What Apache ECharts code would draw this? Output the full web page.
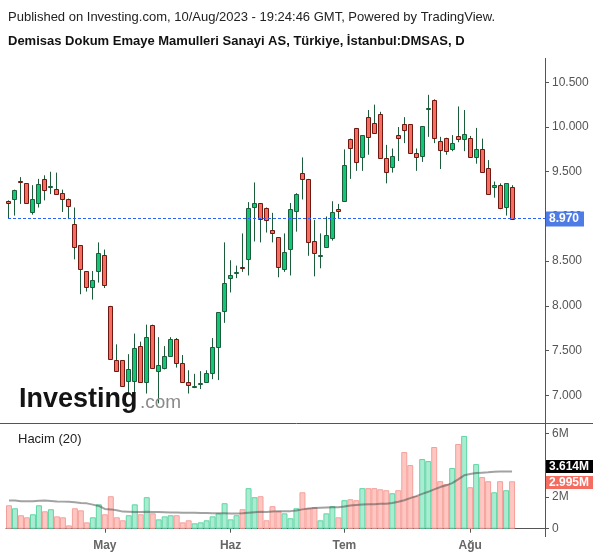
<!DOCTYPE html>
<html><head><meta charset="utf-8">
<script src="https://cdn.jsdelivr.net/npm/echarts@6/dist/echarts.min.js"></script>
<style>html,body{margin:0;padding:0;background:#fff}#c{width:600px;height:558px}</style>
</head><body><div id="c"></div>
<script>
// ---------- DATA ----------
const dates = [
 '2023-04-06','2023-04-07','2023-04-10','2023-04-11','2023-04-12','2023-04-13','2023-04-14','2023-04-17','2023-04-18','2023-04-19',
 '2023-04-20','2023-04-24','2023-04-25','2023-04-26','2023-04-27','2023-04-28',
 '2023-05-02','2023-05-03','2023-05-04','2023-05-05','2023-05-08','2023-05-09','2023-05-10','2023-05-11','2023-05-12',
 '2023-05-15','2023-05-16','2023-05-17','2023-05-18','2023-05-22','2023-05-23','2023-05-24','2023-05-25','2023-05-26',
 '2023-05-29','2023-05-30','2023-05-31',
 '2023-06-01','2023-06-02','2023-06-05','2023-06-06','2023-06-07','2023-06-08','2023-06-09','2023-06-12','2023-06-13',
 '2023-06-14','2023-06-15','2023-06-16','2023-06-19','2023-06-20','2023-06-21','2023-06-22','2023-06-23','2023-06-26','2023-06-27',
 '2023-07-03','2023-07-04','2023-07-05','2023-07-06','2023-07-07','2023-07-10','2023-07-11','2023-07-12','2023-07-13','2023-07-14',
 '2023-07-17','2023-07-18','2023-07-19','2023-07-20','2023-07-21','2023-07-24','2023-07-25','2023-07-26','2023-07-27','2023-07-28',
 '2023-07-31',
 '2023-08-01','2023-08-02','2023-08-03','2023-08-04','2023-08-07','2023-08-08','2023-08-09','2023-08-10'
];
const opens = [
 9.17,9.20,9.40,9.37,9.05,9.15,9.42,9.33,9.31,9.26,
 9.20,8.92,8.68,8.39,8.21,8.39,8.57,8.00,7.40,7.39,
 7.16,7.16,7.55,7.15,7.79,7.27,7.31,7.44,7.63,7.36,
 7.15,7.09,7.13,7.15,7.25,7.54,7.94,8.31,8.37,8.44,
 8.52,9.11,9.15,9.10,8.85,8.77,8.41,8.64,9.06,9.49,
 9.42,8.72,8.56,8.66,8.76,9.08,9.17,9.87,9.99,9.66,
 10.11,10.05,10.15,9.65,9.55,9.91,10.03,10.03,9.71,9.68,
 10.20,10.30,9.84,9.88,9.75,9.90,9.87,9.88,9.67,9.75,
 9.54,9.33,9.35,9.11,9.33
];
const highs = [
 9.18,9.30,9.44,9.37,9.35,9.42,9.46,9.50,9.49,9.30,
 9.20,9.10,8.68,8.39,8.39,8.71,8.63,8.00,7.57,7.39,
 7.46,7.69,7.60,7.79,7.79,7.65,7.55,7.65,7.64,7.45,
 7.28,7.24,7.27,7.28,7.64,7.93,8.71,8.51,8.45,8.81,
 9.16,9.38,9.15,9.10,9.04,8.77,8.81,9.15,9.26,9.66,
 9.42,8.96,8.81,9.00,9.17,9.14,9.75,9.87,9.99,9.91,
 10.19,10.25,10.17,9.80,9.76,10.00,10.11,10.03,9.76,10.01,
 10.36,10.31,9.89,9.88,9.91,10.23,10.19,9.90,9.99,9.87,
 9.63,9.39,9.37,9.37,9.35
];
const lows = [
 8.98,9.01,9.14,9.14,9.02,9.10,9.18,9.25,9.24,9.05,
 8.97,8.52,8.13,8.16,8.07,8.26,8.20,7.41,7.27,7.10,
 7.02,7.00,7.15,7.02,7.30,6.91,7.29,7.44,7.31,7.15,
 7.02,7.08,7.07,7.15,7.18,7.17,7.81,8.15,8.31,8.38,
 8.34,8.72,8.71,8.82,8.71,8.32,8.38,8.34,8.83,9.19,
 8.56,8.33,8.42,8.66,8.73,8.98,9.17,9.42,9.51,9.51,
 9.69,9.93,9.65,9.37,9.49,9.62,9.82,9.71,9.51,9.61,
 9.89,9.82,9.53,9.69,9.73,9.83,9.73,9.66,9.59,9.50,
 9.25,9.21,9.08,9.01,8.97
];
const closes = [
 9.15,9.30,9.39,9.15,9.20,9.36,9.30,9.34,9.25,9.20,
 9.12,8.66,8.41,8.21,8.29,8.59,8.23,7.41,7.27,7.10,
 7.29,7.53,7.15,7.65,7.30,7.34,7.44,7.63,7.36,7.15,
 7.11,7.10,7.14,7.25,7.54,7.93,8.26,8.34,8.38,8.43,
 9.10,9.15,8.97,8.96,8.81,8.43,8.60,9.08,9.25,9.42,
 8.71,8.59,8.57,8.79,9.05,9.06,9.58,9.76,9.61,9.91,
 9.89,9.93,9.65,9.50,9.68,9.88,9.97,9.71,9.67,10.01,
 10.21,9.88,9.74,9.73,9.82,9.87,9.92,9.66,9.75,9.50,
 9.25,9.35,9.09,9.37,8.97
];
// volume in millions
const volumes = [
 1.48,1.29,0.85,0.72,0.91,1.48,1.10,1.23,0.78,0.72,
 0.21,1.29,1.16,0.40,0.72,1.54,0.91,2.05,0.72,0.53,
 0.85,1.54,0.91,1.99,0.97,0.59,0.78,0.85,0.85,0.40,
 0.53,0.34,0.40,0.53,0.78,0.97,1.61,0.59,0.85,1.23,
 2.56,1.99,2.05,0.53,1.42,1.10,0.97,0.66,1.29,2.30,
 1.29,1.35,0.53,0.97,1.42,0.72,1.80,1.86,1.80,2.56,
 2.56,2.56,2.49,2.43,2.24,2.43,4.84,4.02,2.05,4.40,
 4.27,5.16,3.00,2.81,3.83,5.35,5.86,2.62,4.08,3.26,
 3.00,2.30,3.00,2.43,2.995
];
// 20-period volume average (millions)
const volumeMA = [
 1.78,1.78,1.74,1.73,1.73,1.77,1.78,1.75,1.72,1.71,
 1.70,1.67,1.63,1.60,1.52,1.44,1.25,1.22,1.17,1.08,
 1.07,1.06,1.06,1.07,1.06,1.05,1.04,1.03,1.02,1.01,
 1.01,1.00,0.99,0.99,0.98,0.97,0.97,0.96,0.96,0.98,
 1.01,1.04,1.07,1.06,1.09,1.11,1.11,1.11,1.15,1.22,
 1.28,1.30,1.32,1.34,1.35,1.36,1.40,1.47,1.50,1.53,
 1.54,1.55,1.57,1.58,1.62,1.70,1.80,1.93,2.06,2.20,
 2.33,2.48,2.63,2.74,2.88,3.12,3.37,3.46,3.52,3.54,
 3.56,3.59,3.61,3.61,3.614
];
const monthNames = ['Oca','Şub','Mar','Nis','May','Haz','Tem','Ağu','Eyl','Eki','Kas','Ara'];
const priceTicks = [7.0, 7.5, 8.0, 8.5, 9.0, 9.5, 10.0, 10.5];
const volumeTicks = [0, 2, 4, 6];
const titleLine1 = 'Published on Investing.com, 10/Aug/2023 - 19:24:46 GMT, Powered by TradingView.';
const titleLine2 = 'Demisas Dokum Emaye Mamulleri Sanayi AS, Türkiye, İstanbul:DMSAS, D';
const volumeTitle = 'Hacim (20)';

// ---------- CHART ----------
const FONT = '"Liberation Sans", Arial, sans-serif';
const PAD = 5; // empty slots on the right
const cats = dates.concat(new Array(PAD).fill(''));
const isMonthStart = i => i > 0 && i < dates.length && dates[i].slice(5,7) !== dates[i-1].slice(5,7);
const last = dates.length - 1;

const UP = '#10c778', DOWN = '#fa6b60', UP_B = '#1d5c3a', DOWN_B = '#6e1812', WICK = '#1d5c3a';

function renderCandle(params, api) {
  const i = api.value(0);
  const o = api.value(1), c = api.value(2), l = api.value(3), h = api.value(4);
  const pO = api.coord([i, o]), pC = api.coord([i, c]);
  const pL = api.coord([i, l]), pH = api.coord([i, h]);
  const xc = Math.floor(pO[0]) + 0.5;
  const up = c >= o;
  let top = Math.min(pO[1], pC[1]), bot = Math.max(pO[1], pC[1]);
  top = Math.round(top) + 0.5; bot = Math.round(bot) + 0.5;
  if (bot - top < 1) bot = top + 1;
  return {
    type: 'group',
    children: [
      { type: 'line', shape: { x1: xc, y1: pH[1], x2: xc, y2: pL[1] }, style: { stroke: WICK, lineWidth: 1 } },
      { type: 'rect', shape: { x: xc - 2, y: top, width: 4, height: bot - top },
        style: { fill: up ? UP : DOWN, stroke: up ? UP_B : DOWN_B, lineWidth: 1 } }
    ]
  };
}

const baseGraphic = [
  { type: 'text', x: 8, y: 17, style: { text: titleLine1, font: '13px ' + FONT, fill: '#222', verticalAlign: 'middle' } },
  { type: 'text', x: 8, y: 41, style: { text: titleLine2, font: 'bold 13px ' + FONT, fill: '#111', verticalAlign: 'middle' } },
  { type: 'line', shape: { x1: 545.5, y1: 58, x2: 545.5, y2: 537 }, style: { stroke: '#555', lineWidth: 1 }, z: 10 },
  { type: 'line', shape: { x1: 0, y1: 423.5, x2: 593, y2: 423.5 }, style: { stroke: '#555', lineWidth: 1 }, z: 10 },
  { type: 'text', x: 18, y: 439, style: { text: volumeTitle, font: '13px ' + FONT, fill: '#222', verticalAlign: 'middle' } },
  { type: 'text', x: 19, y: 400, style: { text: 'Investing', font: 'bold 27px ' + FONT, fill: '#141414', verticalAlign: 'middle' }, z: 5 },
  { type: 'text', x: 140, y: 402.5, style: { text: '.com', font: '19px ' + FONT, fill: '#8a8a8a', verticalAlign: 'middle' }, z: 5 },
  { type: 'rect', shape: { x: 546, y: 460, width: 47, height: 13 }, style: { fill: '#000' }, z: 20 },
  { type: 'text', x: 549, y: 466.5, style: { text: volumeMA[last].toFixed(3) + 'M', font: 'bold 12px ' + FONT, fill: '#fff', verticalAlign: 'middle' }, z: 21 },
  { type: 'rect', shape: { x: 546, y: 476, width: 47, height: 13 }, style: { fill: '#f46b5f' }, z: 20 },
  { type: 'text', x: 549, y: 482.5, style: { text: volumes[last].toFixed(3) + 'M', font: 'bold 12px ' + FONT, fill: '#fff', verticalAlign: 'middle' }, z: 21 }
];

const chart = echarts.init(document.getElementById('c'), null, { renderer: 'canvas' });
const option = {
  animation: false,
  backgroundColor: '#fff',
  grid: [
    { left: 6, width: 539, top: 82.3, height: 313, containLabel: false, outerBoundsMode: 'none' },
    { left: 6, width: 539, top: 433.7, height: 95, containLabel: false, outerBoundsMode: 'none' }
  ],
  xAxis: [
    { type: 'category', gridIndex: 0, data: cats, boundaryGap: true, show: false },
    { type: 'category', gridIndex: 1, data: cats, boundaryGap: true, offset: 5,
      axisLine: { show: true, lineStyle: { color: '#555', width: 1 } },
      axisTick: { show: true, length: 4, alignWithLabel: true, interval: (i) => isMonthStart(i), lineStyle: { color: '#555' } },
      axisLabel: { interval: (i) => isMonthStart(i), margin: 6, color: '#666', fontWeight: 'bold', fontSize: 12, fontFamily: FONT,
        formatter: (v) => v ? monthNames[parseInt(v.slice(5,7), 10) - 1] : '' },
      splitLine: { show: false } }
  ],
  yAxis: [
    { type: 'value', gridIndex: 0, position: 'right', min: priceTicks[0], max: priceTicks[priceTicks.length-1], interval: 0.5,
      axisLine: { show: false }, splitLine: { show: false },
      axisTick: { show: true, length: 4, lineStyle: { color: '#555' } },
      axisLabel: { margin: 7, color: '#555', fontSize: 12, fontFamily: FONT, formatter: (v) => v.toFixed(3) } },
    { type: 'value', gridIndex: 1, position: 'right', min: volumeTicks[0], max: volumeTicks[volumeTicks.length-1], interval: 2,
      axisLine: { show: false }, splitLine: { show: false },
      axisTick: { show: true, length: 4, lineStyle: { color: '#555' } },
      axisLabel: { margin: 7, color: '#555', fontSize: 12, fontFamily: FONT, formatter: (v) => v === 0 ? '0' : v + 'M' } }
  ],
  series: [
    { type: 'custom', name: 'price', xAxisIndex: 0, yAxisIndex: 0, renderItem: renderCandle, clip: false,
      encode: { x: 0, y: [1, 2, 3, 4] },
      data: dates.map((d, i) => [i, opens[i], closes[i], lows[i], highs[i]]), z: 3 },
    { type: 'bar', name: 'volume', xAxisIndex: 1, yAxisIndex: 1, barCategoryGap: '0%', barGap: '0%',
      data: volumes.map((v, i) => ({ value: v, itemStyle: closes[i] >= opens[i]
        ? { color: '#a9ecd2', borderColor: '#60d5a4', borderWidth: 1 }
        : { color: '#ffc6c2', borderColor: '#f4a09a', borderWidth: 1 } })), z: 2 },
    { type: 'line', name: 'volumeMA', xAxisIndex: 1, yAxisIndex: 1, data: volumeMA, symbol: 'none', showSymbol: false,
      lineStyle: { color: 'rgba(70,70,70,0.5)', width: 2 }, z: 3 }
  ],
  graphic: baseGraphic
};
chart.setOption(option);

// last-price dashed line and label, positioned through the price axis scale
const yLast = Math.round(chart.convertToPixel({ yAxisIndex: 0 }, closes[last])) - 0.5;
const xRight = 545;
option.graphic = baseGraphic.concat([
  { type: 'line', shape: { x1: 8, y1: yLast, x2: xRight, y2: yLast },
    style: { stroke: '#2962ff', lineWidth: 1, lineDash: [3, 2] }, z: 8 },
  { type: 'rect', shape: { x: 546, y: yLast - 7, width: 38, height: 15 }, style: { fill: '#4f7be6' }, z: 20 },
  { type: 'text', x: 549, y: yLast + 0.5, style: { text: closes[last].toFixed(3), font: 'bold 12px ' + FONT, fill: '#fff', verticalAlign: 'middle' }, z: 21 }
]);
chart.setOption(option, true);
</script>
</body></html>
